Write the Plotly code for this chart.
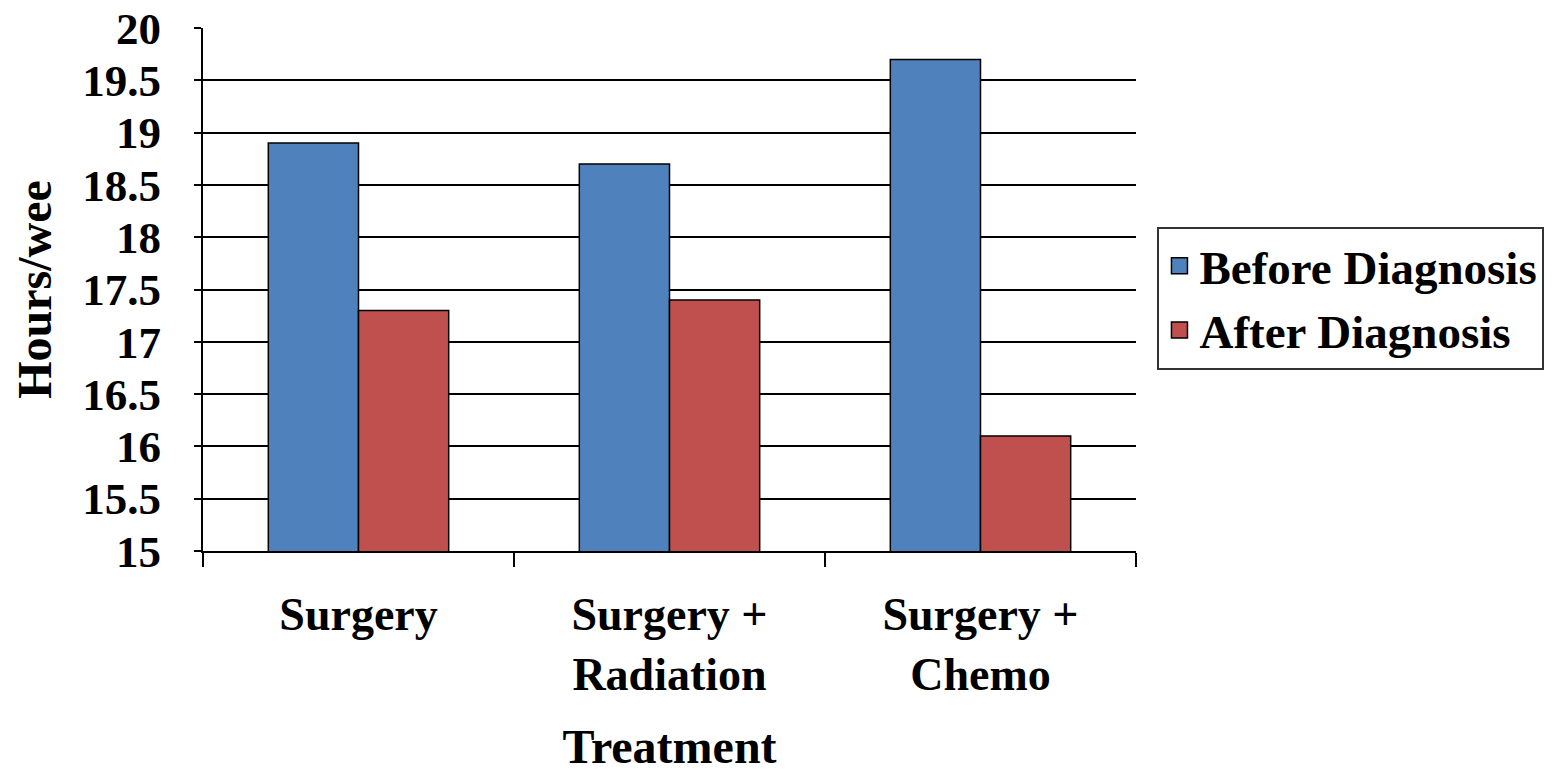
import plotly.graph_objects as go

categories = ["Surgery", "Surgery +<br>Radiation", "Surgery +<br>Chemo"]
before = [18.9, 18.7, 19.7]
after = [17.3, 17.4, 16.1]
series_names = ["Before Diagnosis", "After Diagnosis"]
series_colors = ["#4F81BD", "#C0504D"]
y_ticks = [15, 15.5, 16, 16.5, 17, 17.5, 18, 18.5, 19, 19.5, 20]
y_tick_text = ["15", "15.5", "16", "16.5", "17", "17.5", "18", "18.5", "19", "19.5", "20"]

FONT = "Liberation Serif"

fig = go.Figure()
for vals, name, col in zip([before, after], series_names, series_colors):
    fig.add_trace(go.Bar(x=categories, y=vals, name=name, showlegend=False, legendgroup=name,
                         marker=dict(color=col, line=dict(color="black", width=1.5))))
# legend entries (larger square swatches)
for name, col in zip(series_names, series_colors):
    fig.add_trace(go.Scatter(x=[None], y=[None], mode="markers", name=name, legendgroup=name,
                             marker=dict(symbol="square", size=16, color=col,
                                         line=dict(color="black", width=1.5))))

fig.update_layout(
    width=1557, height=771,
    margin=dict(l=195, r=429, t=20, b=228),
    paper_bgcolor="white", plot_bgcolor="white",
    barmode="group", bargap=0.42, bargroupgap=0,
    font=dict(family=FONT, size=44, color="black"),
    legend=dict(x=1.023, y=0.62, xanchor="left", yanchor="top",
                bordercolor="#333", borderwidth=2, itemsizing="trace",
                font=dict(family=FONT, size=47, color="black", weight="bold"),
                tracegroupgap=0),
    showlegend=True,
)
fig.update_xaxes(
    automargin=False,
    showline=True, linecolor="black", linewidth=2,
    ticks="outside", tickson="boundaries", ticklen=14, tickwidth=1.5, tickcolor="black",
    tickfont=dict(family=FONT, size=46, weight="bold"),
    ticklabelstandoff=22,
    title=dict(text="<b>Treatment</b>", font=dict(family=FONT, size=48), standoff=30),
)
fig.update_yaxes(
    automargin=False,
    range=[15, 20], tickvals=y_ticks, ticktext=y_tick_text,
    ticklabeloverflow="allow",
    showline=True, linecolor="black", linewidth=2,
    showgrid=True, gridcolor="black", gridwidth=1.5,
    ticks="outside", ticklen=7, tickwidth=1.5, tickcolor="black",
    tickfont=dict(family=FONT, size=45, weight="bold"),
    ticklabelstandoff=24,
    title=dict(text="<b>Hours/wee</b>", font=dict(family=FONT, size=48), standoff=30),
)

fig.write_html("out.html")
